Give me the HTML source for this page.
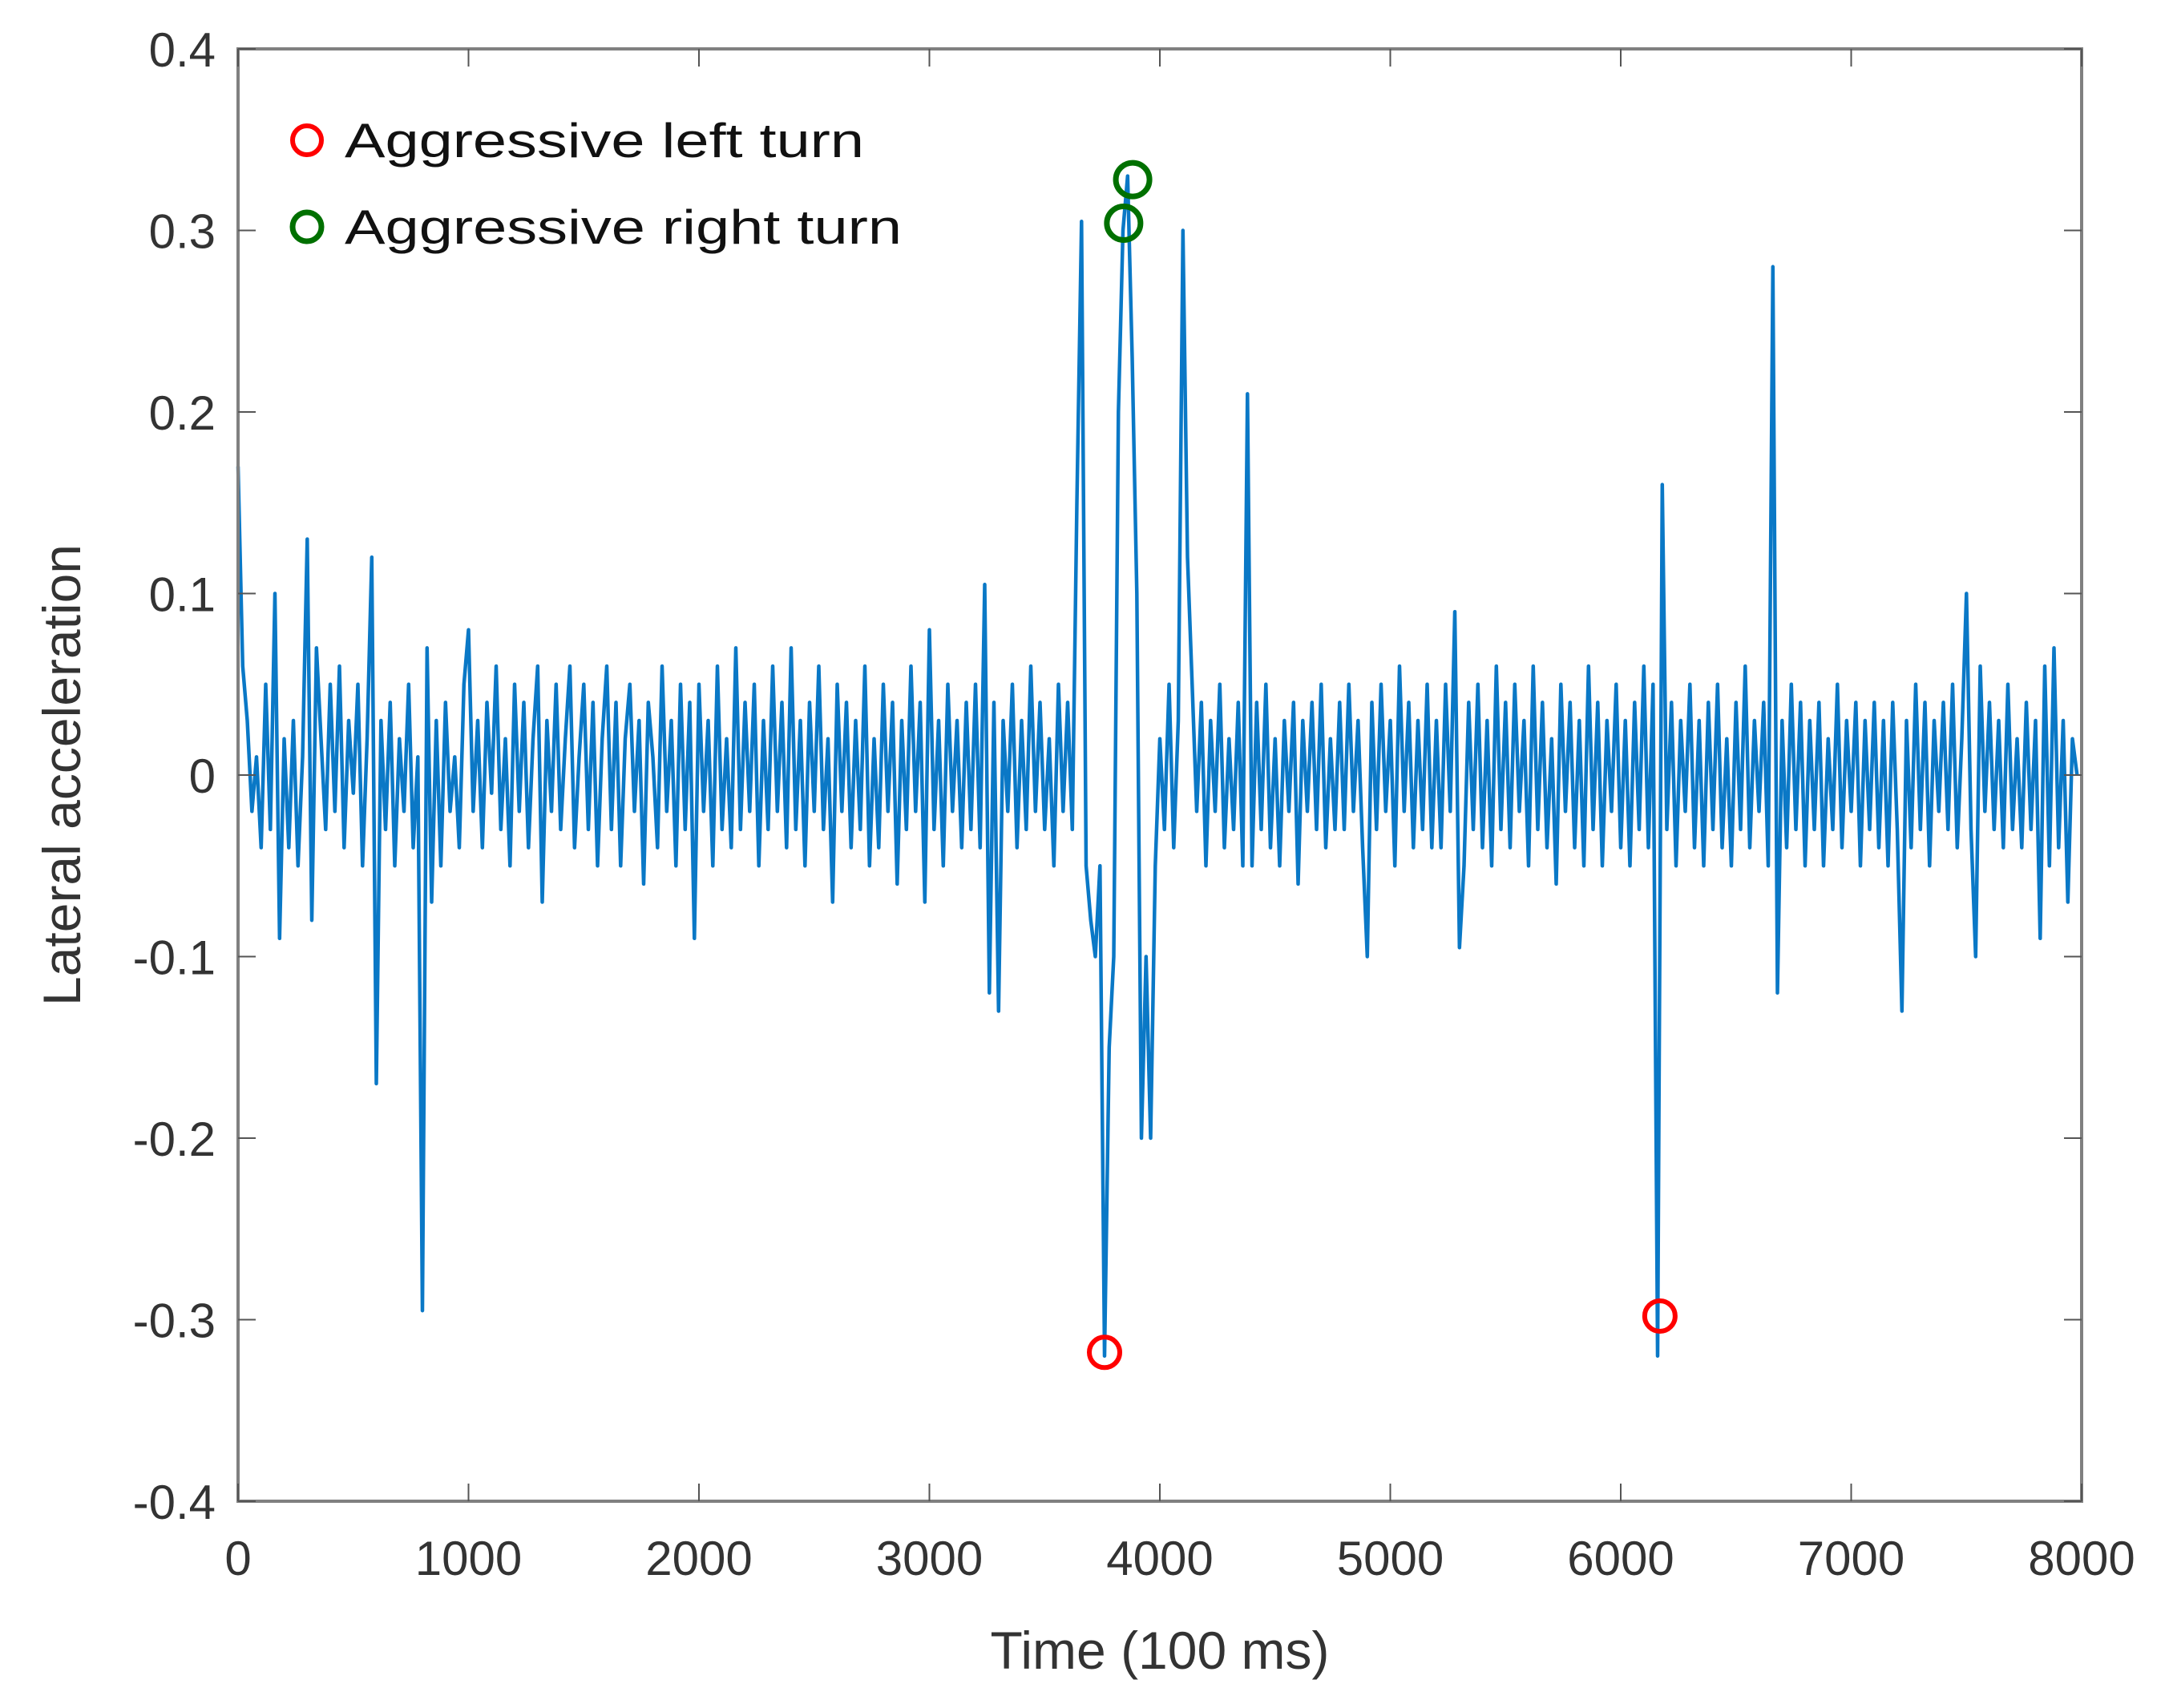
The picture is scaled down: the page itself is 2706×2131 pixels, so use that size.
<!DOCTYPE html>
<html><head><meta charset="utf-8"><style>
html,body{margin:0;padding:0;background:#fff;}
svg{display:block;}
text{font-family:"Liberation Sans",sans-serif;}
</style></head><body>
<svg id="chart" width="2706" height="2131" viewBox="0 0 2706 2131" xmlns="http://www.w3.org/2000/svg">
<rect x="0" y="0" width="2706" height="2131" fill="#fff"/>
<g id="plot"></g>
<g id="axes"></g>
<g id="legend"></g>
</svg>
<script>
const xTicks = [0,1000,2000,3000,4000,5000,6000,7000,8000];
const yTicks = [0.4,0.3,0.2,0.1,0,-0.1,-0.2,-0.3,-0.4];
const yTickLabels = ["0.4","0.3","0.2","0.1","0","-0.1","-0.2","-0.3","-0.4"];
const sampleStep = 20;
const accel = [
0.17,0.06,0.03,-0.02,0.01,-0.04,0.05,-0.03,0.10,-0.09,0.02,-0.04,0.03,-0.05,0.01,0.13,-0.08,0.07,0.02,-0.03,
0.05,-0.02,0.06,-0.04,0.03,-0.01,0.05,-0.05,0.02,0.12,-0.17,0.03,-0.03,0.04,-0.05,0.02,-0.02,0.05,-0.04,0.01,
-0.295,0.07,-0.07,0.03,-0.05,0.04,-0.02,0.01,-0.04,0.05,0.08,-0.02,0.03,-0.04,0.04,-0.01,0.06,-0.03,0.02,-0.05,
0.05,-0.02,0.04,-0.04,0.02,0.06,-0.07,0.03,-0.02,0.05,-0.03,0.02,0.06,-0.04,0.01,0.05,-0.03,0.04,-0.05,0.02,
0.06,-0.03,0.04,-0.05,0.02,0.05,-0.02,0.03,-0.06,0.04,0.01,-0.04,0.06,-0.02,0.03,-0.05,0.05,-0.03,0.04,-0.09,
0.05,-0.02,0.03,-0.05,0.06,-0.03,0.02,-0.04,0.07,-0.03,0.04,-0.02,0.05,-0.05,0.03,-0.03,0.06,-0.02,0.04,-0.04,
0.07,-0.03,0.03,-0.05,0.04,-0.02,0.06,-0.03,0.02,-0.07,0.05,-0.02,0.04,-0.04,0.03,-0.03,0.06,-0.05,0.02,-0.04,
0.05,-0.02,0.04,-0.06,0.03,-0.03,0.06,-0.02,0.04,-0.07,0.08,-0.03,0.03,-0.05,0.05,-0.02,0.03,-0.04,0.04,-0.03,
0.05,-0.04,0.105,-0.12,0.04,-0.13,0.03,-0.02,0.05,-0.04,0.03,-0.03,0.06,-0.02,0.04,-0.03,0.02,-0.05,0.05,-0.02,
0.04,-0.03,0.15,0.305,-0.05,-0.08,-0.1,-0.05,-0.32,-0.15,-0.1,0.2,0.3,0.33,0.23,0.1,-0.2,-0.1,-0.2,-0.05,
0.02,-0.03,0.05,-0.04,0.03,0.3,0.12,0.05,-0.02,0.04,-0.05,0.03,-0.02,0.05,-0.04,0.02,-0.03,0.04,-0.05,0.21,
-0.05,0.04,-0.03,0.05,-0.04,0.02,-0.05,0.03,-0.02,0.04,-0.06,0.03,-0.02,0.04,-0.03,0.05,-0.04,0.02,-0.03,0.04,
-0.03,0.05,-0.02,0.03,-0.04,-0.1,0.04,-0.03,0.05,-0.02,0.03,-0.05,0.06,-0.02,0.04,-0.04,0.03,-0.03,0.05,-0.04,
0.03,-0.04,0.05,-0.02,0.09,-0.095,-0.05,0.04,-0.03,0.05,-0.04,0.03,-0.05,0.06,-0.03,0.04,-0.04,0.05,-0.02,0.03,
-0.05,0.06,-0.03,0.04,-0.04,0.02,-0.06,0.05,-0.02,0.04,-0.04,0.03,-0.05,0.06,-0.03,0.04,-0.05,0.03,-0.02,0.05,
-0.04,0.03,-0.05,0.04,-0.03,0.06,-0.04,0.05,-0.32,0.16,-0.03,0.04,-0.05,0.03,-0.02,0.05,-0.04,0.03,-0.05,0.04,
-0.03,0.05,-0.04,0.02,-0.05,0.04,-0.03,0.06,-0.04,0.03,-0.02,0.04,-0.05,0.28,-0.12,0.03,-0.04,0.05,-0.03,0.04,
-0.05,0.03,-0.03,0.04,-0.05,0.02,-0.03,0.05,-0.04,0.03,-0.02,0.04,-0.05,0.03,-0.03,0.04,-0.04,0.03,-0.05,0.04,
-0.03,-0.13,0.03,-0.04,0.05,-0.03,0.04,-0.05,0.03,-0.02,0.04,-0.03,0.05,-0.04,0.02,0.10,-0.03,-0.1,0.06,-0.02,
0.04,-0.03,0.03,-0.04,0.05,-0.03,0.02,-0.04,0.04,-0.03,0.03,-0.09,0.06,-0.05,0.07,-0.04,0.03,-0.07,0.02,0
];
const leftTurnX = [3760, 6170];
const leftTurnY = [-0.318, -0.298];
const rightTurnX = [3843, 3882];
const rightTurnY = [0.304, 0.328];

const NS = "http://www.w3.org/2000/svg";
const X0 = 297, X1 = 2597, Y0 = 61, Y1 = 1873;
function xs(v){ return X0 + (v - 0) / 8000 * (X1 - X0); }
function ys(v){ return Y0 + (0.4 - v) / 0.8 * (Y1 - Y0); }
function mk(tag, attrs, parent){
  const e = document.createElementNS(NS, tag);
  for (const k in attrs) e.setAttribute(k, attrs[k]);
  parent.appendChild(e);
  return e;
}
const plot = document.getElementById('plot');
const axes = document.getElementById('axes');
const legend = document.getElementById('legend');

let d = '';
accel.forEach((v, i) => { d += (i ? 'L' : 'M') + xs(i * sampleStep).toFixed(1) + ' ' + ys(v).toFixed(1); });
const line = mk('path', {d: d, fill: 'none', stroke: '#0a78c6', 'stroke-width': 4.5, 'stroke-linejoin': 'round'}, plot);



leftTurnX.forEach((t, i) => {
  const c = mk('circle', {cx: xs(t), cy: ys(leftTurnY[i]), r: 19, fill: 'none', stroke: '#ff0000', 'stroke-width': 6}, plot);
  
  
});
rightTurnX.forEach((t, i) => {
  const c = mk('circle', {cx: xs(t), cy: ys(rightTurnY[i]), r: 21, fill: 'none', stroke: '#007000', 'stroke-width': 7}, plot);
  
  
});

const box = mk('rect', {x: X0, y: Y0, width: X1 - X0, height: Y1 - Y0, fill: 'none', stroke: '#808080', 'stroke-width': 4}, axes);



xTicks.forEach(t => {
  const x = xs(t);
  mk('line', {x1: x, y1: Y1, x2: x, y2: Y1 - 22, stroke: '#555', 'stroke-width': 2}, axes);
  mk('line', {x1: x, y1: Y0, x2: x, y2: Y0 + 22, stroke: '#555', 'stroke-width': 2}, axes);
  const lb = mk('text', {x: x, y: Y1 + 92, 'font-size': 60, fill: '#333', 'text-anchor': 'middle'}, axes);
  lb.textContent = String(t);
  
  
});
yTicks.forEach((t, i) => {
  const y = ys(t);
  mk('line', {x1: X0, y1: y, x2: X0 + 22, y2: y, stroke: '#555', 'stroke-width': 2}, axes);
  mk('line', {x1: X1, y1: y, x2: X1 - 22, y2: y, stroke: '#555', 'stroke-width': 2}, axes);
  const lb = mk('text', {x: X0 - 28, y: y + 22, 'font-size': 60, fill: '#333', 'text-anchor': 'end'}, axes);
  lb.textContent = yTickLabels[i];
  
  
});
const xt = mk('text', {x: (X0 + X1) / 2, y: 2082, 'font-size': 66, fill: '#333', 'text-anchor': 'middle'}, axes);
xt.textContent = 'Time (100 ms)';


const yt = mk('text', {x: 0, y: 0, 'font-size': 66, fill: '#333', 'text-anchor': 'middle', transform: 'translate(100,' + ((Y0 + Y1) / 2) + ') rotate(-90)'}, axes);
yt.textContent = 'Lateral acceleration';



const lc1 = mk('circle', {cx: 383, cy: 175, r: 18, fill: 'none', stroke: '#ff0000', 'stroke-width': 6}, legend);


const lt1 = mk('text', {x: 430, y: 196, 'font-size': 60, fill: '#111', textLength: 648, lengthAdjust: 'spacingAndGlyphs'}, legend);
lt1.textContent = 'Aggressive left turn';


const lc2 = mk('circle', {cx: 383, cy: 283, r: 18, fill: 'none', stroke: '#007000', 'stroke-width': 7}, legend);


const lt2 = mk('text', {x: 430, y: 304, 'font-size': 60, fill: '#111', textLength: 695, lengthAdjust: 'spacingAndGlyphs'}, legend);
lt2.textContent = 'Aggressive right turn';


</script>
</body></html>
